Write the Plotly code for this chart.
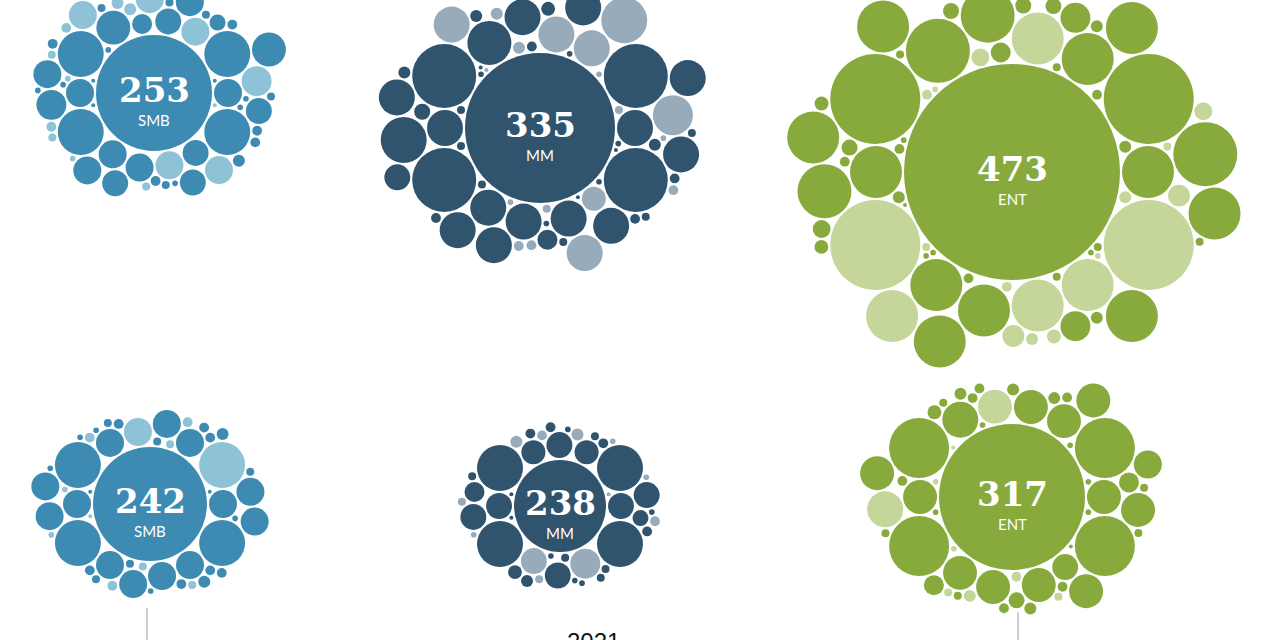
import numpy as np
import plotly.graph_objects as go

# ---------------- data ----------------
segments = ["SMB", "MM", "ENT", "SMB", "MM", "ENT"]
totals = [253, 335, 473, 242, 238, 317]
center_values = [841, 1406, 2916, 812, 529, 1332]

smb22_values = [49, 49, 132, 132, 132, 132, 72, 49, 42, 49, 42, 49, 49,
                56, 56, 25, 42, 49, 49, 49, 49, 16, 42, 42, 49, 49, 72,
                9, 6, 6, 4, 6, 4, 2, 9, 6, 4, 2, 6, 4, 2, 9, 4, 2, 1, 6, 4, 2, 1, 6, 2, 4, 1, 2, 4, 1, 2]
smb22_light = [0, 0, 0, 0, 0, 0, 0, 1, 0, 0, 0, 1, 0,
               0, 1, 0, 0, 0, 1, 1, 0, 0, 0, 0, 0, 1, 0,
               1, 0, 1, 0, 0, 1, 0, 1, 0, 0, 1, 0, 0, 0, 0, 1, 0, 0, 1, 0, 0, 1, 0, 0, 1, 0, 0, 0, 0, 1]

mm22_values = [81, 81, 256, 256, 256, 256, 121, 81, 36, 81, 81, 81, 81,
               132, 100, 81, 81, 81, 81, 132, 81, 25, 81, 81, 81, 81, 81, 42,
               16, 9, 6, 9, 6, 4, 12, 4, 2, 6, 9, 4, 9, 2, 2, 6, 4, 6, 2, 1, 4, 6, 2, 1, 4, 9, 2, 1, 4, 6, 2, 1, 2, 4]
mm22_light = [0, 0, 0, 0, 0, 0, 0, 1, 1, 0, 1, 0, 0,
              0, 1, 0, 0, 0, 0, 1, 0, 0, 0, 1, 0, 0, 1, 0,
              0, 1, 0, 0, 1, 0, 0, 1, 0, 0, 1, 0, 0, 0, 1, 0, 0, 1, 0, 0, 1, 0, 0, 1, 0, 0, 1, 0, 0, 1, 0, 0, 1, 0]

ent22_values = [169, 169, 506, 506, 506, 506, 256, 169, 169, 169, 169, 169, 169,
                182, 256, 182, 169, 169, 169, 169, 169, 56, 56, 169, 169, 30, 30, 20,
                25, 20, 20, 16, 16, 16, 12, 12, 16, 9, 9, 9, 6, 6, 6, 4, 4, 4, 2, 2, 9, 6, 6, 4, 2, 12, 4, 2, 6, 4, 2, 1, 9, 9, 4, 2]
ent22_light = [0, 0, 0, 0, 1, 1, 0, 0, 1, 0, 1, 1, 0,
               0, 0, 0, 0, 0, 0, 1, 0, 0, 0, 0, 0, 1, 1, 1,
               0, 0, 1, 0, 0, 0, 1, 0, 0, 0, 1, 0, 0, 1, 0, 0, 1, 0, 0, 1, 0, 0, 1, 0, 0, 0, 1, 0, 0, 0, 1, 0, 0, 1, 0, 0]

smb21_values = [49, 49, 132, 132, 132, 132, 49, 49, 49, 49, 49, 49, 49,
                49, 49, 49, 49, 49,
                6, 6, 6, 4, 6, 6, 6, 6, 4, 6, 4, 4, 6, 4, 2, 2, 2, 4, 9, 2, 2, 1, 4, 1, 2, 9, 6, 4, 2, 1]
smb21_light = [0, 0, 0, 1, 0, 0, 0, 0, 0, 0, 1, 0, 0,
               0, 0, 0, 0, 0,
               1, 0, 0, 0, 0, 0, 0, 1, 1, 1, 1, 0, 0, 0, 0, 1, 0, 0, 0, 1, 0, 0, 0, 1, 0, 0, 0, 1, 0, 0]

mm21_values = [42, 42, 132, 132, 132, 132, 36, 36, 56, 42, 42,
               42, 42, 42, 25, 16,
               12, 9, 9, 6, 6, 6, 4, 4, 4, 6, 2, 2, 4, 2, 6, 9, 4, 2, 2, 1, 4, 6, 2, 1, 4, 2, 1, 2]
mm21_light = [0, 0, 0, 0, 0, 0, 0, 0, 1, 1, 0,
              0, 0, 0, 0, 0,
              0, 1, 1, 0, 1, 0, 0, 1, 0, 0, 0, 1, 0, 0, 1, 0, 0, 1, 0, 0, 1, 0, 0, 1, 0, 0, 0, 1]

ent21_values = [72, 72, 225, 225, 225, 225, 81, 72, 42, 72, 72, 72,
                72, 72, 81, 25, 72, 72, 72, 16, 25, 72, 49,
                9, 12, 9, 6, 6, 6, 6, 9, 4, 4, 4, 4, 2, 2, 6, 4, 2, 4, 9, 6, 2, 1, 2, 4, 2, 9, 6, 1, 2]
ent21_light = [0, 0, 0, 0, 0, 0, 0, 0, 0, 0, 1, 0,
               0, 0, 1, 0, 0, 0, 0, 0, 0, 0, 0,
               1, 0, 0, 1, 0, 0, 0, 0, 0, 1, 0, 0, 0, 1, 0, 0, 0, 1, 0, 0, 0, 0, 1, 0, 0, 0, 0, 1, 0]

year_label = "2021"

# ---------------- layout / style ----------------
cluster_values = [smb22_values, mm22_values, ent22_values, smb21_values, mm21_values, ent21_values]
cluster_light = [smb22_light, mm22_light, ent22_light, smb21_light, mm21_light, ent21_light]
cluster_centers = [(154, 93), (540, 128), (1012, 172), (150, 504), (560, 506), (1012, 497)]

dark_colors = {"SMB": "#3d8bb2", "MM": "#30536e", "ENT": "#88aa3c"}
light_colors = {"SMB": "#8ec3d7", "MM": "#97abbb", "ENT": "#c5d69a"}

RADIUS_SCALE = 2.0
GAP = 2.0
ASPECT = 1.25
BIAS = 0.5


def pack(center_r, radii):
    xs, ys, rs = [0.0], [0.0], [center_r]
    last = -np.pi / 2
    ang = np.linspace(0, 2 * np.pi, 90, endpoint=False)
    for r in radii:
        X, Y, R = np.array(xs), np.array(ys), np.array(rs)
        n = len(X)
        cx, cy = [], []
        if n < 3:
            for k in range(n):
                cx.append(X[k] + (R[k] + r + GAP) * np.cos(ang))
                cy.append(Y[k] + (R[k] + r + GAP) * np.sin(ang))
        if n >= 2:
            i, j = np.triu_indices(n, 1)
            dx, dy = X[j] - X[i], Y[j] - Y[i]
            d = np.hypot(dx, dy)
            a, b = R[i] + r + GAP, R[j] + r + GAP
            m = (d < a + b) & (d > np.abs(a - b))
            i, j, dx, dy, d, a, b = i[m], j[m], dx[m], dy[m], d[m], a[m], b[m]
            l = (a * a - b * b + d * d) / (2 * d)
            h = np.sqrt(np.maximum(a * a - l * l, 0))
            ux, uy = dx / d, dy / d
            bx, by = X[i] + l * ux, Y[i] + l * uy
            cx += [bx - h * uy, bx + h * uy]
            cy += [by + h * ux, by - h * ux]
        CX, CY = np.concatenate(cx), np.concatenate(cy)
        dist = np.hypot(CX[:, None] - X[None, :], CY[:, None] - Y[None, :]) - (R[None, :] + r + GAP)
        ok = (dist >= -1e-6).all(axis=1)
        score = np.hypot(CX / ASPECT, CY) + BIAS * np.mod(np.arctan2(CY, CX) - last, 2 * np.pi)
        score[~ok] = np.inf
        k = int(np.argmin(score))
        xs.append(float(CX[k])); ys.append(float(CY[k])); rs.append(r)
        last = np.arctan2(CY[k], CX[k])
    return np.array(xs), np.array(ys), np.array(rs)


fig = go.Figure()
for idx, seg in enumerate(segments):
    vals = np.array(cluster_values[idx], dtype=float)
    light = np.array(cluster_light[idx])
    assert len(vals) == len(light)
    center_r = RADIUS_SCALE * np.sqrt(center_values[idx])
    radii = RADIUS_SCALE * np.sqrt(vals)
    X, Y, R = pack(center_r, radii)
    ox, oy = cluster_centers[idx]
    flags = np.concatenate([[0], light])
    colors = [light_colors[seg] if f else dark_colors[seg] for f in flags]
    fig.add_trace(go.Scatter(
        x=ox + X, y=oy + Y, mode="markers",
        marker=dict(size=2 * R, sizemode="diameter", color=colors, opacity=1, line=dict(width=0)),
        hoverinfo="skip", cliponaxis=True,
    ))
    fig.add_annotation(x=ox, y=oy - 3, text=str(totals[idx]), showarrow=False,
                       font=dict(family="DejaVu Serif", size=34, color="white", weight="bold"),
                       xanchor="center", yanchor="middle")
    fig.add_annotation(x=ox, y=oy + 27, text=seg, showarrow=False,
                       font=dict(family="Lato", size=15, color="white"),
                       xanchor="center", yanchor="middle")

for lx, ly in [(147, 608), (1018, 612)]:
    fig.add_shape(type="line", x0=lx, x1=lx, y0=ly, y1=660, xref="x", yref="y",
                  line=dict(color="#9a9a9a", width=1))

fig.add_annotation(x=593, y=626, text=year_label, showarrow=False,
                   font=dict(family="Liberation Sans", size=24, color="#111111"),
                   xanchor="center", yanchor="top")

fig.update_layout(
    width=1280, height=640,
    margin=dict(l=0, r=0, t=0, b=0),
    paper_bgcolor="white", plot_bgcolor="white",
    showlegend=False,
    xaxis=dict(range=[0, 1280], visible=False, fixedrange=True),
    yaxis=dict(range=[640, 0], visible=False, fixedrange=True),
)

fig.write_html("out.html", config={"displayModeBar": False},
               post_script="document.body.style.margin='0';document.body.style.overflow='hidden';")
